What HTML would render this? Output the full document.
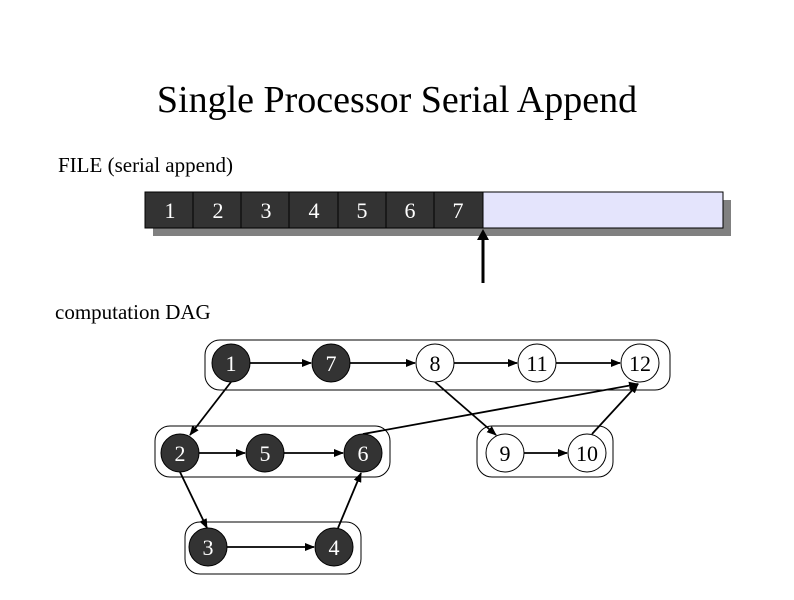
<!DOCTYPE html>
<html><head><style>
body{margin:0;background:#fff;}
</style></head><body>
<svg width="794" height="595" xmlns="http://www.w3.org/2000/svg" font-family="Liberation Serif, serif">
<defs><marker id="a" markerWidth="10" markerHeight="8" refX="9" refY="4" orient="auto" markerUnits="userSpaceOnUse"><path d="M0,0 L10,4 L0,8 z" fill="#000"/></marker></defs>
<text x="397" y="112" font-size="38" text-anchor="middle">Single Processor Serial Append</text>
<text x="58" y="172" font-size="21">FILE (serial append)</text>
<rect x="153" y="200" width="578" height="36" fill="#808080"/>
<rect x="145" y="192" width="578" height="36" fill="#e4e4fc" stroke="#000" stroke-width="1"/>
<g fill="#333" stroke="#000" stroke-width="1">
<rect x="145" y="192" width="48" height="36"/><rect x="193" y="192" width="48" height="36"/><rect x="241" y="192" width="48" height="36"/><rect x="289" y="192" width="49" height="36"/><rect x="338" y="192" width="48" height="36"/><rect x="386" y="192" width="48" height="36"/><rect x="434" y="192" width="49" height="36"/>
</g>
<g fill="#fff" font-size="22" text-anchor="middle">
<text x="170" y="218">1</text><text x="218" y="218">2</text><text x="266" y="218">3</text><text x="314" y="218">4</text><text x="362" y="218">5</text><text x="410" y="218">6</text><text x="458" y="218">7</text>
</g>
<line x1="483" y1="283" x2="483" y2="236" stroke="#000" stroke-width="3"/>
<path d="M477,240 L483,229 L489,240 z" fill="#000"/>
<text x="55" y="319" font-size="21">computation DAG</text>
<g fill="none" stroke="#000" stroke-width="1">
<rect x="205" y="340" width="465" height="50" rx="15"/>
<rect x="155" y="426" width="235" height="51" rx="15"/>
<rect x="477" y="426" width="136" height="51" rx="15"/>
<rect x="185" y="522" width="176" height="52" rx="15"/>
</g>
<g stroke="#000" stroke-width="1.8" marker-end="url(#a)">
<line x1="250" y1="363" x2="311" y2="363"/>
<line x1="350" y1="363" x2="415" y2="363"/>
<line x1="454" y1="363" x2="517" y2="363"/>
<line x1="556" y1="363" x2="620" y2="363"/>
<line x1="231" y1="382" x2="190" y2="435"/>
<line x1="199" y1="453" x2="245" y2="453"/>
<line x1="284" y1="453" x2="343" y2="453"/>
<line x1="363" y1="434" x2="638" y2="384"/>
<line x1="435" y1="382" x2="496" y2="435"/>
<line x1="524" y1="453" x2="567" y2="453"/>
<line x1="592" y1="434" x2="638" y2="384"/>
<line x1="180" y1="472" x2="207" y2="528"/>
<line x1="227" y1="547" x2="314" y2="547"/>
<line x1="338" y1="528" x2="361" y2="473"/>
</g>
<g stroke="#000" stroke-width="1">
<circle cx="231" cy="363" r="19" fill="#333"/>
<circle cx="331" cy="363" r="19" fill="#333"/>
<circle cx="435" cy="363" r="19" fill="#fff"/>
<circle cx="537" cy="363" r="19" fill="#fff"/>
<circle cx="640" cy="363" r="19" fill="#fff"/>
<circle cx="180" cy="453" r="19" fill="#333"/>
<circle cx="265" cy="453" r="19" fill="#333"/>
<circle cx="363" cy="453" r="19" fill="#333"/>
<circle cx="505" cy="453" r="19" fill="#fff"/>
<circle cx="587" cy="453" r="19" fill="#fff"/>
<circle cx="208" cy="547" r="19" fill="#333"/>
<circle cx="334" cy="547" r="19" fill="#333"/>
</g>
<g font-size="22" text-anchor="middle">
<text x="231" y="371" fill="#fff">1</text><text x="331" y="371" fill="#fff">7</text>
<text x="435" y="371">8</text><text x="537" y="371">11</text><text x="640" y="371">12</text>
<text x="180" y="461" fill="#fff">2</text><text x="265" y="461" fill="#fff">5</text><text x="363" y="461" fill="#fff">6</text>
<text x="505" y="461">9</text><text x="587" y="461">10</text>
<text x="208" y="555" fill="#fff">3</text><text x="334" y="555" fill="#fff">4</text>
</g>
</svg>
</body></html>
